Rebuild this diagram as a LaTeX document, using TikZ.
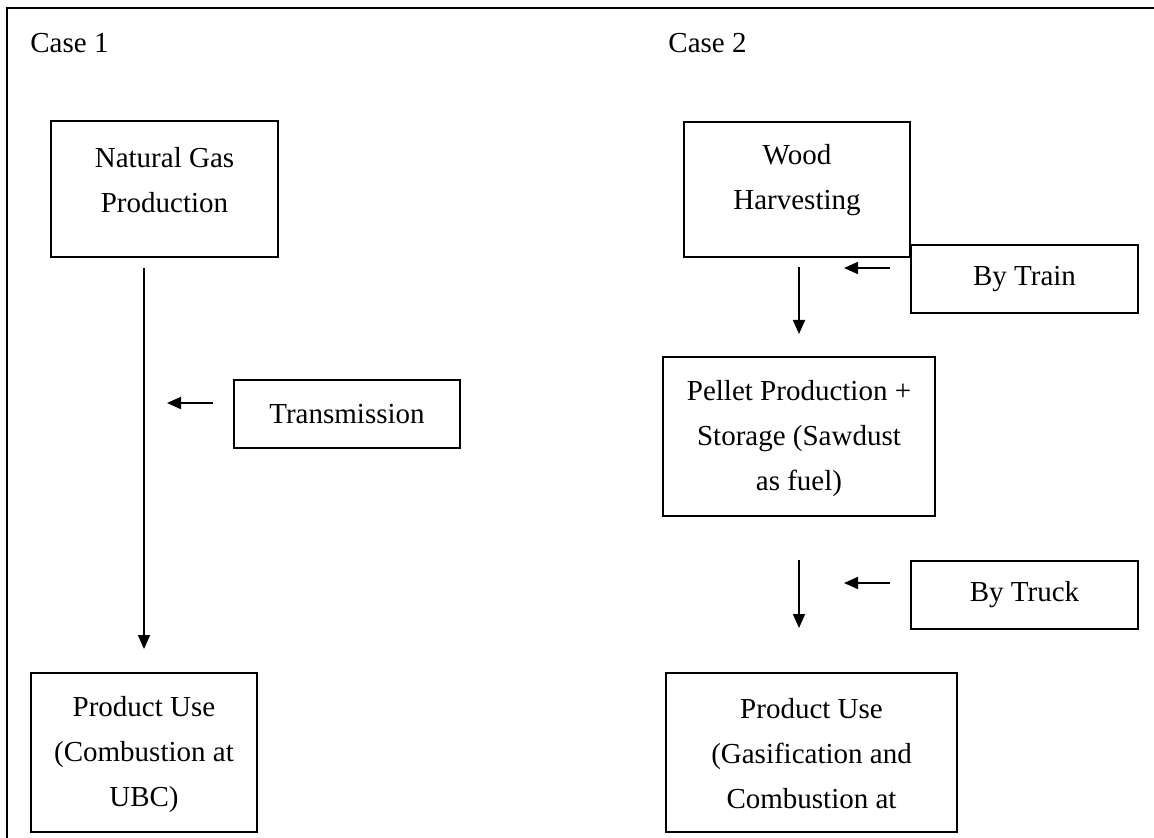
\documentclass[tikz,border=0pt]{standalone}
\usepackage{fontspec}
\setmainfont{Liberation Serif}
\usetikzlibrary{arrows.meta}
\begin{document}
\begin{tikzpicture}[x=0.5pt,y=-0.5pt,
  box/.style={draw,line width=1pt,inner sep=0pt},
  txt/.style={align=center,inner sep=0pt,font=\fontsize{14.5}{22.5}\selectfont},
  arr/.style={line width=0.9pt,-{Triangle[length=7pt,width=6pt]}}]
\useasboundingbox (0,0) rectangle (1154,838);
\draw[line width=1pt] (7,838) -- (7,8) -- (1154,8);
\node[txt,anchor=base west] (case1) at (30,53) {Case 1};
\node[txt,anchor=base west] (case2) at (668,53) {Case 2};
% Case 1
\node[box,minimum width=113.5pt,minimum height=68pt] (ng) at (164.5,189) {};
\node[txt] (ngt) at (164.5,180) {Natural Gas\\Production};
\node[box,minimum width=113pt,minimum height=34pt] (tr) at (347,414) {};
\node[txt] (trt) at (347,414) {Transmission};
\node[box,minimum width=113pt,minimum height=79.5pt] (pu1) at (144,752.5) {};
\node[txt] (pu1t) at (144,755) {Product Use\\(Combustion at\\UBC)};
\draw[arr,shorten <=5pt,shorten >=11.5pt] (ng.south -| pu1.north) -- (pu1.north);
\coordinate (trA) at (213,403);
\coordinate (trB) at (167,403);
\draw[arr] (trA) -- (trB);
% Case 2
\node[box,minimum width=113pt,minimum height=67.5pt] (wh) at (797,189.5) {};
\node[txt] (wht) at (797,180) {Wood\\Harvesting};
\node[box,minimum width=113.5pt,minimum height=34pt] (train) at (1024.5,279) {};
\node[txt] (traint) at (1024.5,279) {By Train};
\node[box,minimum width=136pt,minimum height=79.5pt] (pel) at (799,436.5) {};
\node[txt] (pelt) at (799,439) {Pellet Production +\\Storage (Sawdust\\as fuel)};
\node[box,minimum width=113.5pt,minimum height=34pt] (truck) at (1024.5,595) {};
\node[txt] (truckt) at (1024.5,595) {By Truck};
\node[box,minimum width=145.5pt,minimum height=79.5pt] (pu2) at (811.5,752.5) {};
\node[txt] (pu2t) at (811.5,754) {Product Use\\(Gasification and\\Combustion at};
\coordinate (wA) at (799,267);
\coordinate (wB) at (799,334);
\draw[arr] (wA) -- (wB);
\coordinate (tA) at (890,268);
\coordinate (tB) at (844,268);
\draw[arr] (tA) -- (tB);
\coordinate (kA) at (799,560);
\coordinate (kB) at (799,628);
\draw[arr] (kA) -- (kB);
\coordinate (uA) at (890,583);
\coordinate (uB) at (844,583);
\draw[arr] (uA) -- (uB);
\end{tikzpicture}
\end{document}
